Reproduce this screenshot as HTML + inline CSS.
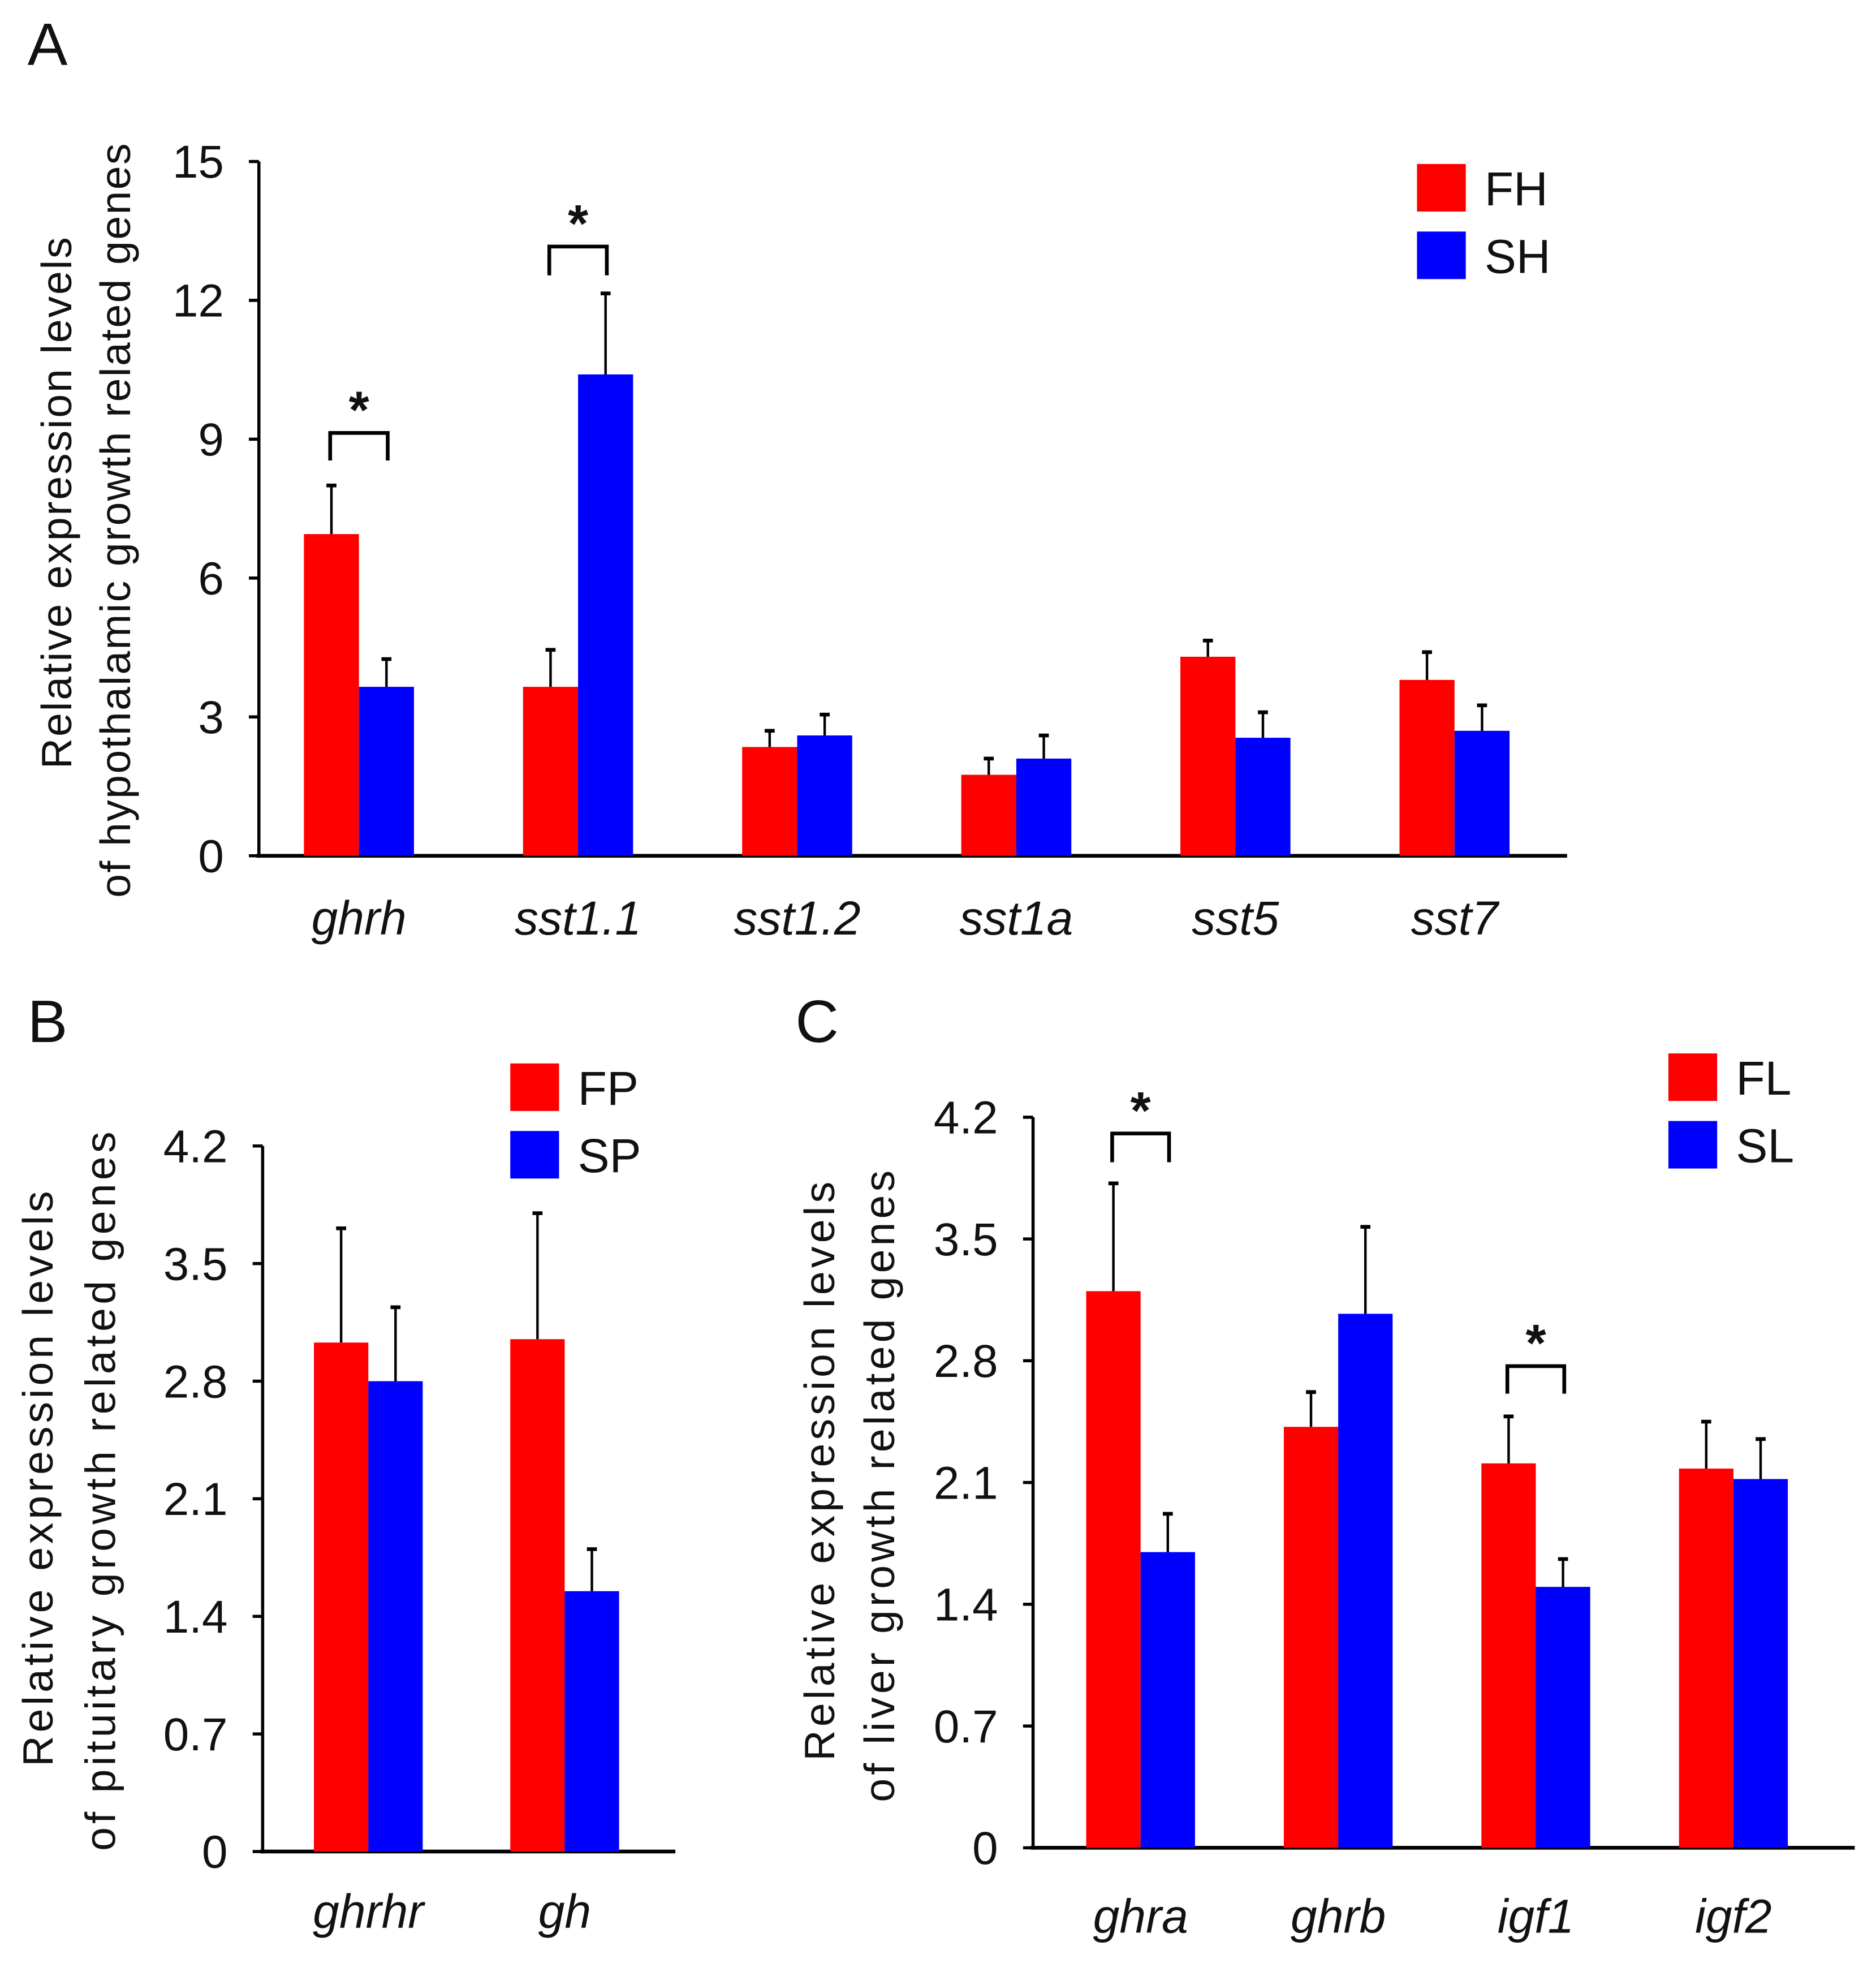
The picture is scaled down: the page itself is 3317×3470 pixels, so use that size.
<!DOCTYPE html>
<html><head><meta charset="utf-8"><style>
html,body{margin:0;padding:0;background:#fff}
svg{display:block}
text{font-family:"Liberation Sans",sans-serif;fill:#111}
</style></head><body>
<svg id="s" width="3317" height="3470" viewBox="0 0 1500 1569" xmlns="http://www.w3.org/2000/svg"></svg>
<script>
// Panel A data
const catsA = ["ghrh","sst1.1","sst1.2","sst1a","sst5","sst7"];
const fhVals = [6.95,3.65,2.35,1.75,4.3,3.8];
const fhErr = [1.05,0.8,0.35,0.35,0.35,0.6];
const shVals = [3.65,10.4,2.6,2.1,2.55,2.7];
const shErr = [0.6,1.75,0.45,0.5,0.55,0.55];
const ticksA = [0,3,6,9,12,15];
// Panel B data
const catsB = ["ghrhr","gh"];
const fpVals = [3.03,3.05];
const fpErr = [0.68,0.75];
const spVals = [2.8,1.55];
const spErr = [0.44,0.25];
const ticksB = [0,0.7,1.4,2.1,2.8,3.5,4.2];
// Panel C data
const catsC = ["ghra","ghrb","igf1","igf2"];
const flVals = [3.2,2.42,2.21,2.18];
const flErr = [0.62,0.2,0.27,0.27];
const slVals = [1.7,3.07,1.5,2.12];
const slErr = [0.22,0.5,0.16,0.23];
const ticksC = [0,0.7,1.4,2.1,2.8,3.5,4.2];

const S=document.getElementById('s');
const NS="http://www.w3.org/2000/svg";
function mk(tag,attrs,parent){const e=document.createElementNS(NS,tag);for(const k in attrs)e.setAttribute(k,attrs[k]);(parent||S).appendChild(e);return e;}

function panel(cfg){
  const g=mk('g',{});
  
  
  const y=v=>cfg.y0-(v/cfg.max)*(cfg.y0-cfg.yTop);
  const ya=mk('line',{x1:cfg.ax,y1:cfg.yTop,x2:cfg.ax,y2:cfg.y0+1.5,stroke:'#000','stroke-width':2.5},g);
  
  
  const xa=mk('line',{x1:cfg.ax-2,y1:cfg.y0,x2:cfg.axEnd,y2:cfg.y0,stroke:'#000','stroke-width':3},g);
  
  
  cfg.ticks.forEach(t=>{
    mk('line',{x1:cfg.ax-8,y1:y(t),x2:cfg.ax,y2:y(t),stroke:'#000','stroke-width':2.5},g);
    const tx=mk('text',{x:cfg.ax-28,y:y(t)+13,'text-anchor':'end','font-size':37},g);
    tx.textContent=String(t);
    
    
  });
  const bw=cfg.bw;
  cfg.cats.forEach((c,i)=>{
    const cx=cfg.c0+i*cfg.step;
    [[cfg.a,cfg.ae,'#ff0000',cx-bw],[cfg.b,cfg.be,'#0000ff',cx]].forEach(([vals,errs,col,x0],k)=>{
      const v=vals[i],e=errs[i];
      const r=mk('rect',{x:x0,y:y(v),width:bw,height:cfg.y0-y(v),fill:col},g);
      
      
      const m=x0+bw/2;
      mk('line',{x1:m,y1:y(v),x2:m,y2:y(v+e),stroke:'#000','stroke-width':2},g);
      mk('line',{x1:m-4,y1:y(v+e),x2:m+4,y2:y(v+e),stroke:'#000','stroke-width':3},g);
    });
    const lb=mk('text',{x:cx,y:cfg.labY,'text-anchor':'middle','font-size':38,'font-style':'italic'},g);
    lb.textContent=c;
    
    
  });
  cfg.sig.forEach(([i,top,bot])=>{
    const cx=cfg.c0+i*cfg.step;
    const p=mk('path',{d:`M${cx-bw/2-1},${bot} V${top} H${cx+bw/2+1} V${bot}`,fill:'none',stroke:'#000','stroke-width':3},g);
    
    
    const st=mk('text',{x:cx,y:top-4,'text-anchor':'middle','font-size':42,'font-weight':'bold'},g);
    st.textContent='*';
    
    
  });
  cfg.leg.forEach((l,k)=>{
    const ly=cfg.legY+k*cfg.legGap;
    const r=mk('rect',{x:cfg.legX,y:ly,width:39,height:38,fill:k?'#0000ff':'#ff0000'},g);
    
    
    const t=mk('text',{x:cfg.legX+54,y:ly+33,'font-size':38},g);
    t.textContent=l;
    
    
  });
  cfg.title.forEach((tl,k)=>{
    const [tx,tcy,len]=cfg.titlePos[k];
    const t=mk('text',{x:tx,y:tcy,'text-anchor':'middle','font-size':34,textLength:len,lengthAdjust:'spacing',transform:`rotate(-90 ${tx} ${tcy})`,'xml:space':'preserve'},g);
    t.textContent=tl;
    
    
  });
  const L=mk('text',{x:cfg.letter[0],y:cfg.letter[1],'font-size':48},g);
  L.textContent=cfg.letterT;
  
  
}

panel({name:'panel-a',ax:207,axEnd:1253,y0:684,yTop:129,max:15,ticks:ticksA,cats:catsA,a:fhVals,ae:fhErr,b:shVals,be:shErr,
  bw:44,c0:287,step:175.2,labY:747,sig:[[0,346,368],[1,197,220]],leg:['FH','SH'],legX:1133,legY:131,legGap:54,
  title:['Relative  expression levels','of  hypothalamic growth related genes'],titlePos:[[57,402,425],[104,416,603]],letter:[22,52],letterT:'A'});
panel({name:'panel-b',ax:210,axEnd:540,y0:1480,yTop:916,max:4.2,ticks:ticksB,cats:catsB,a:fpVals,ae:fpErr,b:spVals,be:spErr,
  bw:43.5,c0:294.5,step:157,labY:1541,sig:[],leg:['FP','SP'],legX:408,legY:850,legGap:54,
  title:['Relative  expression levels','of  pituitary growth related genes'],titlePos:[[42,1182,460],[92,1192,575]],letter:[22,833],letterT:'B'});
panel({name:'panel-c',ax:826,axEnd:1483,y0:1477,yTop:893,max:4.2,ticks:ticksC,cats:catsC,a:flVals,ae:flErr,b:slVals,be:slErr,
  bw:43.5,c0:912,step:158,labY:1545,sig:[[0,906,929],[2,1092,1114]],leg:['FL','SL'],legX:1334,legY:842,legGap:54,
  title:['Relative  expression levels','of  liver growth related genes'],titlePos:[[667,1176,463],[715,1188,505]],letter:[636,833],letterT:'C'});
</script>
</body></html>
